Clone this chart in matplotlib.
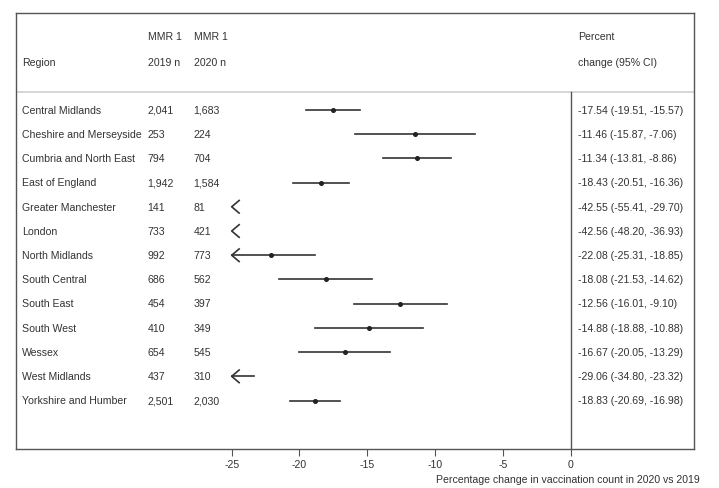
import numpy as np
import matplotlib.pyplot as plt

plt.rcParams['font.family'] = ['Liberation Sans', 'DejaVu Sans']
plt.rcParams['axes.unicode_minus'] = False

regions = ["Central Midlands", "Cheshire and Merseyside", "Cumbria and North East",
           "East of England", "Greater Manchester", "London", "North Midlands",
           "South Central", "South East", "South West", "Wessex", "West Midlands",
           "Yorkshire and Humber"]
n2019 = [2041, 253, 794, 1942, 141, 733, 992, 686, 454, 410, 654, 437, 2501]
n2020 = [1683, 224, 704, 1584, 81, 421, 773, 562, 397, 349, 545, 310, 2030]
est = [-17.54, -11.46, -11.34, -18.43, -42.55, -42.56, -22.08, -18.08, -12.56,
       -14.88, -16.67, -29.06, -18.83]
lo = [-19.51, -15.87, -13.81, -20.51, -55.41, -48.20, -25.31, -21.53, -16.01,
      -18.88, -20.05, -34.80, -20.69]
hi = [-15.57, -7.06, -8.86, -16.36, -29.70, -36.93, -18.85, -14.62, -9.10,
      -10.88, -13.29, -23.32, -16.98]
ticks = [-25, -20, -15, -10, -5, 0]

# plot limits
xmin, xmax = -40.94, 9.09
clip = -25
txt = '#333333'
fs = 7.55

fig = plt.figure(figsize=(7.19, 4.88), dpi=100)
ax = fig.add_axes([15.5/719, 39/488, 678.5/719, 436/488])
ax.set_xlim(xmin, xmax)
ax.set_ylim(14.0, -4.0)

for s in ax.spines.values():
    s.set_color('#555555')
    s.set_linewidth(1.0)

ax.set_yticks([])
ax.set_xticks(ticks)
ax.tick_params(axis='x', direction='out', length=5, color='#555555',
               labelsize=fs, labelcolor=txt, pad=3)
fig.text(700/719, 1 - 480/488, "Percentage change in vaccination count in 2020 vs 2019",
         fontsize=fs, color=txt, ha='right', va='center')

def cell(x, y, s):
    # baseline placed so that capitals sit centred on the row
    ax.text(x, y + 0.155, s, fontsize=fs, color=txt, va='baseline')

# header
col_x = [-40.45, -31.2, -27.8, 0.54]
cell(col_x[1], -3.03, "MMR 1")
cell(col_x[2], -3.03, "MMR 1")
cell(col_x[3], -3.03, "Percent")
cell(col_x[0], -1.98, "Region")
cell(col_x[1], -1.98, "2019 n")
cell(col_x[2], -1.98, "2020 n")
cell(col_x[3], -1.98, "change (95% CI)")

ax.axhline(-0.74, color='#d0d0d0', lw=1.2)
ax.plot([0, 0], [-0.74, 14.0], color='#555555', lw=1.0)

lc = '#333333'
for i, r in enumerate(regions):
    cell(col_x[0], i, r)
    cell(col_x[1], i, f"{n2019[i]:,}")
    cell(col_x[2], i, f"{n2020[i]:,}")
    cell(col_x[3], i, f"{est[i]:.2f} ({lo[i]:.2f}, {hi[i]:.2f})")
    if hi[i] > clip:
        ax.plot([max(lo[i], clip), hi[i]], [i, i], color=lc, lw=1.2)
    if est[i] >= clip:
        ax.plot(est[i], i, 'o', color='#222222', ms=2.6)
    if lo[i] < clip:
        ax.plot([clip + 0.55, clip, clip + 0.55], [i - 0.26, i, i + 0.26],
                color=lc, lw=1.2)

fig.savefig("out.png", dpi=100)
